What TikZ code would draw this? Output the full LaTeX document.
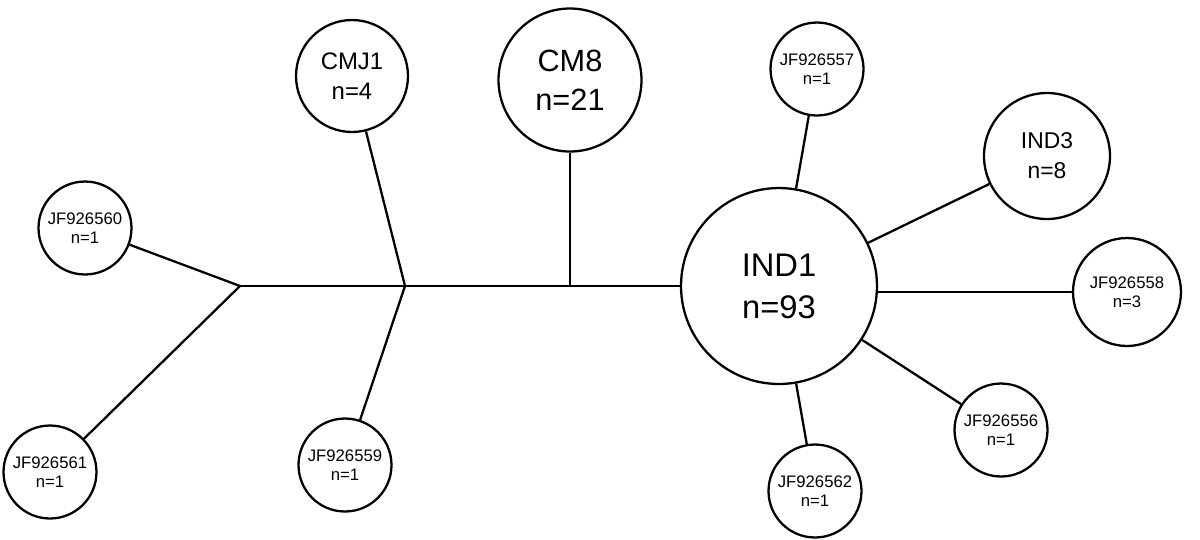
\documentclass[tikz,border=0pt]{standalone}
\usepackage{fontspec}
\setmainfont{Liberation Sans}

\tikzset{
  hap/.style={draw, circle, line width=1.3pt, align=center, inner sep=0pt},
  tiny/.style={hap, minimum size=1.86cm, font=\fontsize{9.5}{11}\selectfont},
  link/.style={line width=1.3pt},
}

\begin{document}
\begin{tikzpicture}[x=0.02cm, y=-0.02cm]
      \useasboundingbox (0,0) rectangle (1200,539);
      % haplotypes
      \node[tiny] (jf560) at (85,228) {JF926560\\n=1};
      \node[tiny] (jf561) at (50,472) {JF926561\\n=1};
      \node[tiny] (jf559) at (345,465) {JF926559\\n=1};
      \node[hap, minimum size=2.24cm, font=\fontsize{13.6}{17}\selectfont] (cmj1) at (352,76) {CMJ1\\n=4};
      \node[hap, minimum size=2.86cm, font=\fontsize{17.5}{22}\selectfont] (cm8) at (570,80) {CM8\\n=21};
      \node[hap, minimum size=3.92cm, font=\fontsize{18.6}{24}\selectfont] (ind1) at (779,286) {IND1\\n=93};
      \node[tiny] (jf557) at (817,69) {JF926557\\n=1};
      \node[hap, minimum size=2.52cm, font=\fontsize{13}{17}\selectfont] (ind3) at (1047,156) {IND3\\n=8};
      \node[hap, minimum size=2.16cm, font=\fontsize{9.5}{11}\selectfont] (jf558) at (1127,292) {JF926558\\n=3};
      \node[tiny] (jf556) at (1001,430) {JF926556\\n=1};
      \node[tiny] (jf562) at (815,491) {JF926562\\n=1};
      % median vectors
      \coordinate (mv1) at (240,286);
      \coordinate (mv2) at (405,286);
      % links
      \draw[link] (jf560) -- (mv1) -- (jf561);
      \draw[link] (mv1) -- (mv2) -- (ind1);
      \draw[link] (cmj1) -- (mv2) -- (jf559);
      \draw[link] (cm8) -- (cm8 |- mv2);
      \draw[link] (ind1) -- (jf557);
      \draw[link] (ind1) -- (ind3);
      \draw[link] (jf558) -- (ind1.east |- jf558);
      \draw[link] (ind1) -- (jf556);
      \draw[link] (ind1) -- (jf562);
    \end{tikzpicture}
\end{document}
